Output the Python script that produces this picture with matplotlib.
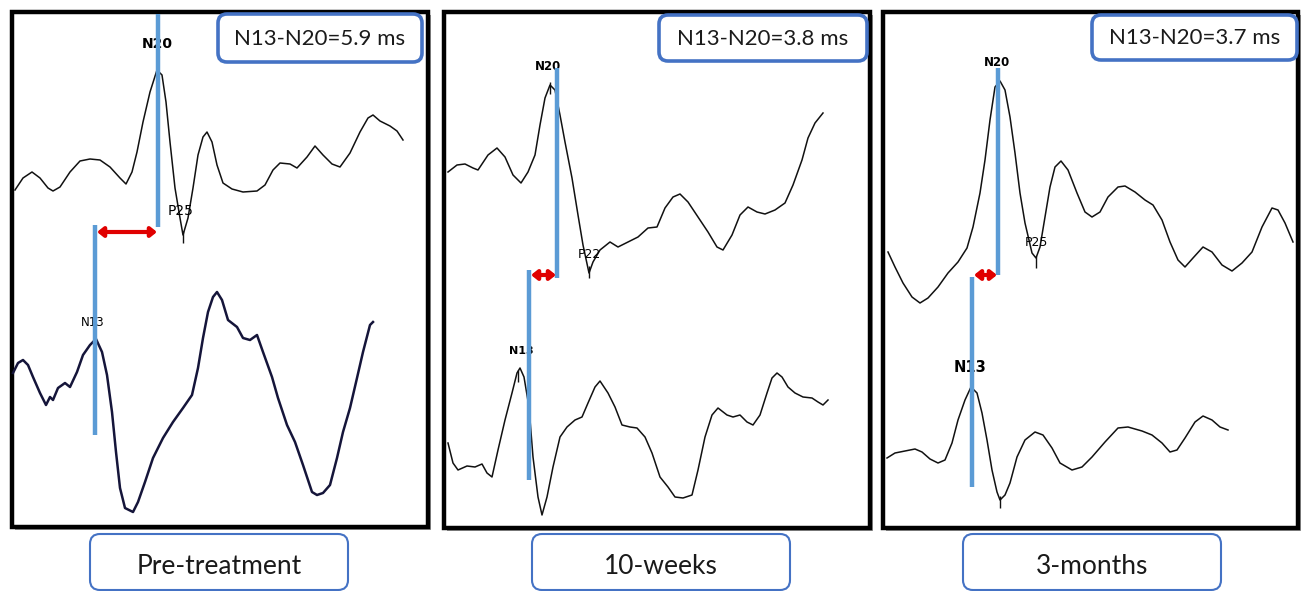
import matplotlib
matplotlib.use("Agg")
import matplotlib.pyplot as plt
from matplotlib.patches import Rectangle, FancyBboxPatch

plt.rcParams['font.family'] = ['Lato', 'DejaVu Sans']

# panel titles / latency boxes
panel_names = ['Pre-treatment', '10-weeks', '3-months']
latency_text = ['N13-N20=5.9 ms', 'N13-N20=3.8 ms', 'N13-N20=3.7 ms']
p_labels = ['P25', 'P22', 'P25']

# traces (x = time position, y = amplitude position, pixels)
top1_x = [15, 23, 32, 40, 48, 53, 60, 70, 80, 90, 100, 110, 120, 126, 132, 137, 143, 150, 157, 162, 166,
          170, 175, 180, 183, 188, 193, 198, 203, 207, 212, 217, 223, 232, 243, 257, 265, 273, 280, 290,
          297, 307, 315, 323, 332, 340, 350, 360, 368, 373, 380, 390, 397, 403]
top1_y = [190, 178, 172, 178, 188, 191, 187, 172, 161, 159, 160, 167, 178, 184, 172, 152, 122, 92, 70, 75,
          102, 142, 188, 218, 235, 218, 188, 155, 137, 132, 142, 165, 183, 189, 192, 191, 185, 170, 163, 164,
          168, 157, 146, 155, 164, 167, 153, 132, 118, 115, 121, 126, 131, 140]
bot1_x = [13, 18, 23, 28, 33, 40, 46, 50, 53, 58, 65, 70, 77, 83, 90, 96, 102, 107, 112, 116, 120, 125,
          133, 138, 145, 153, 163, 173, 183, 192, 198, 203, 208, 213, 217, 222, 228, 237, 243, 250, 257, 263,
          272, 278, 287, 295, 303, 312, 317, 323, 330, 337, 343, 350, 357, 363, 370, 373]
bot1_y = [373, 363, 360, 365, 377, 393, 405, 397, 400, 388, 383, 387, 372, 355, 345, 339, 352, 375, 412,
          452, 488, 508, 512, 502, 482, 458, 438, 422, 408, 395, 368, 338, 312, 297, 292, 300, 320, 327, 338,
          340, 335, 352, 377, 398, 425, 442, 465, 492, 495, 493, 485, 458, 432, 408, 378, 352, 325, 322]

top2_x = [448, 457, 465, 473, 478, 488, 497, 505, 513, 521, 528, 535, 540, 545, 550, 555, 560, 565, 572,
          578, 583, 589, 593, 600, 610, 618, 628, 638, 648, 657, 665, 673, 680, 688, 698, 708, 717, 723, 732,
          740, 748, 757, 765, 775, 785, 793, 802, 808, 815, 823]
top2_y = [172, 165, 164, 168, 170, 155, 148, 157, 175, 183, 172, 155, 125, 98, 85, 90, 115, 142, 178,
          215, 245, 273, 262, 250, 242, 247, 242, 237, 228, 227, 208, 197, 194, 202, 217, 232, 247, 250, 235,
          215, 207, 212, 214, 210, 203, 185, 160, 138, 123, 113]
bot2_x = [448, 453, 458, 467, 475, 482, 487, 492, 498, 505, 512, 517, 520, 524, 529, 533, 538, 542, 547,
          553, 560, 567, 575, 582, 588, 595, 600, 608, 615, 622, 630, 637, 645, 652, 660, 668, 675, 683, 692,
          698, 705, 712, 718, 727, 733, 740, 747, 753, 760, 767, 772, 777, 782, 788, 795, 803, 812, 818, 823,
          828]
bot2_y = [443, 463, 470, 466, 467, 464, 473, 477, 450, 420, 393, 373, 368, 377, 407, 457, 497, 515, 497,
          467, 437, 427, 420, 417, 403, 387, 381, 393, 407, 425, 427, 428, 437, 453, 477, 487, 497, 498, 495,
          470, 437, 415, 408, 415, 417, 415, 422, 425, 415, 393, 378, 373, 377, 387, 393, 397, 398, 402, 405,
          400]

top3_x = [888, 895, 903, 912, 920, 928, 938, 948, 958, 967, 973, 980, 985, 990, 995, 1000, 1005, 1010,
          1015, 1020, 1025, 1032, 1036, 1040, 1045, 1050, 1055, 1061, 1068, 1077, 1085, 1092, 1100, 1108,
          1118, 1125, 1135, 1145, 1153, 1162, 1170, 1178, 1185, 1193, 1203, 1212, 1222, 1232, 1242, 1252,
          1262, 1272, 1278, 1285, 1293]
top3_y = [252, 267, 283, 297, 303, 298, 287, 273, 262, 248, 227, 193, 160, 120, 87, 81, 90, 117,
          153, 193, 223, 253, 258, 247, 217, 187, 167, 161, 170, 193, 212, 217, 212, 197,
          187, 186, 192, 200, 205, 220, 242, 260, 267, 258, 247, 252, 265, 271, 263, 252,
          227, 208, 210, 223, 242]
bot3_x = [887, 895, 905, 915, 922, 930, 938, 945, 952, 958, 965, 971, 977, 982, 987, 992, 997, 1000, 1005,
          1010, 1017, 1025, 1035, 1043, 1052, 1060, 1072, 1082, 1092, 1105, 1118, 1128, 1142, 1152, 1162,
          1170, 1177, 1185, 1195, 1203, 1212, 1220, 1228]
bot3_y = [458, 453, 451, 449, 452, 459, 463, 460, 443, 420, 400, 387, 393, 413, 440, 470, 492, 500, 495,
          483, 457, 440, 432, 435, 448, 463, 470, 467, 457, 442, 428, 427, 431, 435, 443,
          452, 450, 438, 422, 416, 420, 427, 430]

tops = [(top1_x, top1_y), (top2_x, top2_y), (top3_x, top3_y)]
bots = [(bot1_x, bot1_y), (bot2_x, bot2_y), (bot3_x, bot3_y)]

# N20 / N13 marker lines: x, y start, y end
n20_x = [158, 557, 998]
n20_y = [(14, 227), (68, 278), (68, 275)]
n13_x = [95, 529, 972]
n13_y = [(225, 435), (270, 480), (277, 487)]
arrow_y = [232, 275, 275]

# small cursor ticks of the recorder
tick_x = [183, 550, 518, 589, 1036, 1000]
tick_y = [237, 88, 376, 272, 262, 502]

# layout (pixels)
frames = [(12, 12, 416, 515), (444, 12, 426, 516), (883, 12, 415, 516)]
lat_boxes = [(218, 14, 204, 48), (659, 15, 208, 46), (1092, 15, 205, 45)]
name_boxes = [(90, 534, 258, 56), (532, 534, 258, 56), (963, 534, 258, 56)]
n20_pos = [(157, 44), (548, 67), (997, 63)]
p_pos = [(181, 211), (589, 254), (1036, 243)]
n13_pos = [(93, 323), (521, 351), (970, 367)]

BLUE = '#5b9bd5'
BOXBLUE = '#4472c4'
RED = '#e00000'
NARROW = ['Liberation Sans Narrow', 'DejaVu Sans']

fig = plt.figure(figsize=(13.03, 5.91), dpi=100)
ax = fig.add_axes([0, 0, 1, 1])
ax.set_xlim(0, 1303)
ax.set_ylim(591, 0)
ax.axis('off')

for i in range(3):
    fx, fy, fw, fh = frames[i]
    ax.add_patch(Rectangle((fx + 3, fy + 3), fw, fh, facecolor='#9a9a9a', edgecolor='none', zorder=1))
    ax.add_patch(Rectangle((fx, fy), fw, fh, facecolor='white', edgecolor='black', lw=3.2, zorder=2))

    tx, ty = tops[i]
    bx, by = bots[i]
    ax.plot(tx, ty, color='#111111', lw=1.1, zorder=3)
    ax.plot(bx, by, color='#15153a' if i == 0 else '#111111', lw=1.8 if i == 0 else 1.1, zorder=3)

    # peak labels
    ax.text(n20_pos[i][0], n20_pos[i][1], 'N20', fontsize=10 if i == 0 else 8.5, fontweight='bold',
            family=NARROW, ha='center', va='center', zorder=3)
    ax.text(p_pos[i][0], p_pos[i][1], p_labels[i], fontsize=10 if i == 0 else 9, family=NARROW,
            ha='center', va='center', zorder=3)
    ax.text(n13_pos[i][0], n13_pos[i][1], 'N13', fontsize=[8.5, 8, 10.5][i],
            fontweight='normal' if i == 0 else 'bold', family=NARROW if i == 0 else 'DejaVu Sans',
            ha='center', va='center', zorder=3)

    # blue latency markers and red arrow
    ax.plot([n20_x[i], n20_x[i]], n20_y[i], color=BLUE, lw=3.2, solid_capstyle='butt', zorder=4)
    ax.plot([n13_x[i], n13_x[i]], n13_y[i], color=BLUE, lw=3.2, solid_capstyle='butt', zorder=4)
    ax.annotate('', xy=(n20_x[i] - 1, arrow_y[i]), xytext=(n13_x[i] + 2, arrow_y[i]),
                arrowprops=dict(arrowstyle='<|-|>,head_length=0.35,head_width=0.28', color=RED, lw=3,
                                shrinkA=0, shrinkB=0), zorder=5)

    # latency box
    lx, ly, lw_, lh = lat_boxes[i]
    ax.add_patch(FancyBboxPatch((lx, ly), lw_, lh, boxstyle='round,pad=0,rounding_size=9',
                                facecolor='white', edgecolor=BOXBLUE, lw=2.6, zorder=6))
    ax.text(lx + lw_ / 2, ly + lh / 2 + 1, latency_text[i], fontsize=16, ha='center', va='center',
            color='#1a1a1a', zorder=7)

    # name box
    nx, ny, nw, nh = name_boxes[i]
    ax.add_patch(FancyBboxPatch((nx, ny), nw, nh, boxstyle='round,pad=0,rounding_size=10',
                                facecolor='white', edgecolor=BOXBLUE, lw=1.5, zorder=6))
    ax.text(nx + nw / 2, 566, panel_names[i], fontsize=19, ha='center', va='center',
            color='#1a1a1a', zorder=7)

ax.plot(tick_x, tick_y, linestyle='none', marker='|', markersize=9, markeredgewidth=1.0,
        color='#111111', zorder=3)

fig.savefig('out.png', dpi=100)
